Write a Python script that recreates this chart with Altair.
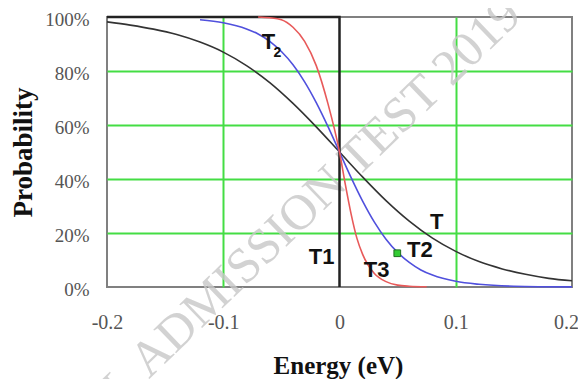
import altair as alt
import pandas as pd

# ---- data ----
# curve T (black, highest temperature)
t_energy = [-0.20, -0.18, -0.16, -0.14, -0.12, -0.10, -0.08, -0.06, -0.04, -0.02, 0.00,
            0.02, 0.04, 0.06, 0.08, 0.10, 0.12, 0.14, 0.16, 0.18, 0.20]
t_prob = [0.982, 0.970, 0.955, 0.935, 0.907, 0.870, 0.820, 0.757, 0.680, 0.593, 0.50,
          0.407, 0.320, 0.244, 0.181, 0.132, 0.094, 0.067, 0.047, 0.032, 0.023]

# curve T2 (blue)
t2_energy = [-0.12, -0.10, -0.08, -0.07, -0.06, -0.05, -0.04, -0.03, -0.02, -0.01, 0.00,
             0.01, 0.02, 0.03, 0.04, 0.05, 0.06, 0.07, 0.08, 0.10, 0.12, 0.15, 0.20]
t2_prob = [0.990, 0.979, 0.956, 0.937, 0.910, 0.872, 0.823, 0.760, 0.683, 0.595, 0.50,
           0.405, 0.317, 0.240, 0.177, 0.128, 0.091, 0.063, 0.044, 0.021, 0.010, 0.003, 0.0005]

# curve T3 (red, lowest temperature)
t3_energy = [-0.07, -0.06, -0.05, -0.04, -0.03, -0.02, -0.01, 0.00, 0.005, 0.01, 0.015,
             0.02, 0.03, 0.04, 0.05, 0.06, 0.075]
t3_prob = [1.0, 0.997, 0.99, 0.962, 0.91, 0.82, 0.68, 0.50, 0.38, 0.27, 0.18,
           0.12, 0.05, 0.02, 0.007, 0.003, 0.001]

# curve T1 (step, T = 0 K)
t1_energy = [-0.20, 0.00, 0.00]
t1_prob = [1.0, 1.0, 0.0]

# annotation labels
label_text = ["T", "T2", "T3", "T1", "T"]
label_energy = [0.0836, 0.0692, 0.032, -0.0153, -0.0612]
label_prob = [0.242, 0.137, 0.063, 0.112, 0.908]
sub_text = ["2"]
sub_energy = [-0.0535]
sub_prob = [0.866]

# marked point on T2
point_energy = [0.0497]
point_prob = [0.125]

x_ticks = [-0.2, -0.1, 0, 0.1, 0.2]
y_ticks = [0, 0.2, 0.4, 0.6, 0.8, 1.0]

watermark = ["L ADMISSION TEST 2019"]

# ---- tables ----
df_t = pd.DataFrame({"energy": t_energy, "prob": t_prob})
df_t2 = pd.DataFrame({"energy": t2_energy, "prob": t2_prob})
df_t3 = pd.DataFrame({"energy": t3_energy, "prob": t3_prob})
df_t1 = pd.DataFrame({"energy": t1_energy, "prob": t1_prob, "idx": list(range(len(t1_energy)))})
df_lab = pd.DataFrame({"energy": label_energy, "prob": label_prob, "text": label_text})
df_sub = pd.DataFrame({"energy": sub_energy, "prob": sub_prob, "text": sub_text})
df_pt = pd.DataFrame({"energy": point_energy, "prob": point_prob})
df_wm = pd.DataFrame({"text": watermark})

GREEN = "#44dd44"

x_axis = alt.Axis(
    values=x_ticks,
    labelExpr="datum.value == 0 ? '0' : '' + datum.value",
    labelFont="Liberation Serif", labelFontSize=20, labelColor="#555555",
    labelPadding=25, labelFlush=False, labelOverlap=False,
    labelOffset={"condition": {"test": "datum.value > 0.15", "value": -6}, "value": 0},
    ticks=False, domain=False,
    grid=True, gridWidth=2,
    gridColor={"condition": {"test": "abs(abs(datum.value) - 0.1) < 0.001", "value": GREEN},
               "value": "transparent"},
    title="Energy (eV)", titleFont="Liberation Serif", titleFontSize=25,
    titleFontWeight="bold", titleColor="#111111",
    titleBaseline="alphabetic", titleY=86, titleX=231,
)
y_axis = alt.Axis(
    values=y_ticks,
    labelExpr="round(datum.value * 100) + '%'",
    labelFont="Liberation Serif", labelFontSize=19, labelColor="#555555",
    labelPadding=18, labelFlush=False, labelOverlap=False, labelOffset=2,
    ticks=False, domain=False,
    grid=True, gridWidth=2,
    gridColor={"condition": {"test": "datum.value > 0.01 && datum.value < 0.99", "value": GREEN},
               "value": "transparent"},
    title="Probability", titleFont="Liberation Serif", titleFontSize=27,
    titleFontWeight="bold", titleColor="#111111",
    titleAngle=270, titleAlign="center", titleBaseline="middle",
    titleX=-84, titleY=135,
)

xs = alt.Scale(domain=[-0.2, 0.2], nice=False, zero=False)
ys = alt.Scale(domain=[0, 1], nice=False)
X = alt.X("energy:Q", scale=xs, axis=x_axis)
Y = alt.Y("prob:Q", scale=ys, axis=y_axis)

wm = alt.Chart(df_wm).mark_text(
    font="Liberation Serif", fontSize=50, color="#c8c8c8", opacity=0.8,
    angle=316, align="center", baseline="middle",
).encode(text="text:N", x=alt.value(205), y=alt.value(184))

t1 = alt.Chart(df_t1).mark_line(color="#222222", strokeWidth=2.5).encode(
    x=X, y=Y, order="idx:Q")
t = alt.Chart(df_t).mark_line(color="#333333", strokeWidth=1.6, interpolate="monotone").encode(x=X, y=Y)
t2 = alt.Chart(df_t2).mark_line(color="#5050dd", strokeWidth=1.6, interpolate="monotone").encode(x=X, y=Y)
t3 = alt.Chart(df_t3).mark_line(color="#e85a5a", strokeWidth=1.6, interpolate="monotone").encode(x=X, y=Y)

pt = alt.Chart(df_pt).mark_square(size=45, fill="#33cc33", stroke="#1f6f1f", strokeWidth=1, opacity=1).encode(x=X, y=Y)

labels = alt.Chart(df_lab).mark_text(
    font="Liberation Sans", fontSize=22, fontWeight="bold", color="#111111",
    align="center", baseline="middle",
).encode(x=X, y=Y, text="text:N")
subs = alt.Chart(df_sub).mark_text(
    font="Liberation Sans", fontSize=14, fontWeight="bold", color="#111111",
    align="center", baseline="middle",
).encode(x=X, y=Y, text="text:N")

chart = alt.layer(wm, t1, t, t2, t3, pt, labels, subs).properties(
    width=465, height=270,
    autosize="none",
    padding={"left": 99, "top": 9, "right": 6, "bottom": 92},
    background="white",
).configure_view(stroke="#808080", strokeWidth=2)

chart.save("out.html", embed_options={"renderer": "svg", "actions": False})
